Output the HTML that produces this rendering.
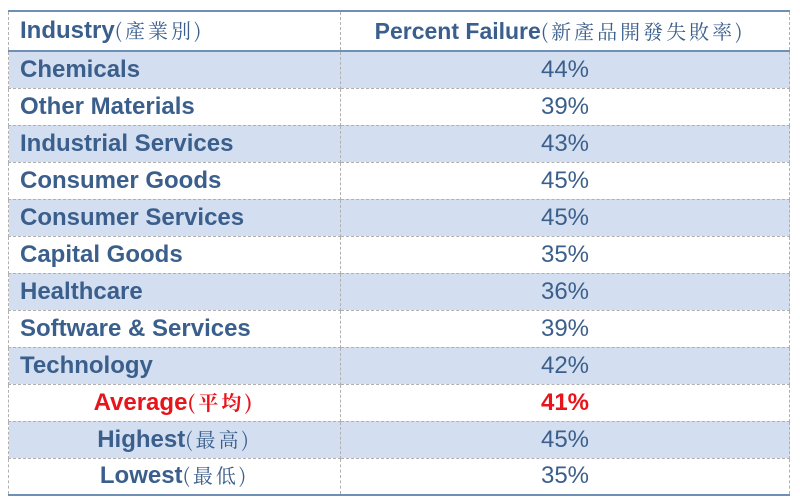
<!DOCTYPE html>
<html><head><meta charset="utf-8"><style>
body{margin:0;background:#fff;width:800px;height:503px;overflow:hidden}
table{position:absolute;left:8px;top:10px;width:782px;border-collapse:collapse;font-family:"Liberation Sans","Noto Sans CJK TC",sans-serif;color:#3b5f8c;font-size:24px;table-layout:fixed}
table{border-top:2px solid #6f8fb5;border-bottom:2px solid #6f8fb5}
td{border:1px dashed #b0b0b0;padding:0;line-height:30px;white-space:nowrap;box-sizing:border-box;vertical-align:middle}
tr{height:37px}
tr.h{height:40px}
tr.h td{font-weight:bold;border-bottom:2px solid #6f8fb5}
td.l{width:332px;padding-left:11px;font-weight:bold}
td.r{text-align:center}
tr.s td{background:#d3dff0}
td.c{text-align:center;padding-left:0}
.cj{font-family:"Noto Serif CJK SC",serif;font-weight:normal;font-size:20px;letter-spacing:3px;line-height:1}
.red{color:#e8141b;font-weight:bold}
</style></head><body>
<table>
<tr class="h"><td class="l" style="font-size:24px">Industry<span class="cj">(產業別)</span></td><td class="r" style="font-size:23px;padding-right:10px">Percent Failure<span class="cj">(新產品開發失敗率)</span></td></tr>
<tr class="s"><td class="l">Chemicals</td><td class="r">44%</td></tr>
<tr><td class="l">Other Materials</td><td class="r">39%</td></tr>
<tr class="s"><td class="l">Industrial Services</td><td class="r">43%</td></tr>
<tr><td class="l">Consumer Goods</td><td class="r">45%</td></tr>
<tr class="s"><td class="l">Consumer Services</td><td class="r">45%</td></tr>
<tr><td class="l">Capital Goods</td><td class="r">35%</td></tr>
<tr class="s"><td class="l">Healthcare</td><td class="r">36%</td></tr>
<tr><td class="l">Software &amp; Services</td><td class="r">39%</td></tr>
<tr class="s"><td class="l">Technology</td><td class="r">42%</td></tr>
<tr><td class="l c red">Average<span class="cj" style="font-weight:bold">(平均)</span></td><td class="r red">41%</td></tr>
<tr class="s"><td class="l c">Highest<span class="cj">(最高)</span></td><td class="r">45%</td></tr>
<tr><td class="l c">Lowest<span class="cj">(最低)</span></td><td class="r">35%</td></tr>
</table>
</body></html>
